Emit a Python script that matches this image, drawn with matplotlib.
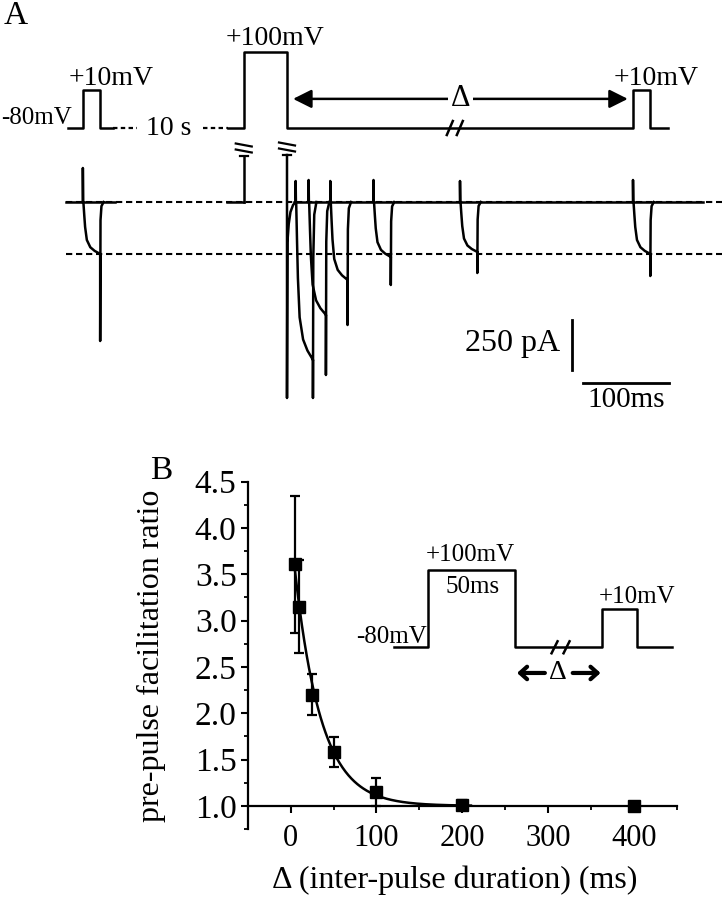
import matplotlib
matplotlib.use('Agg')
import matplotlib.pyplot as plt
from matplotlib.ticker import MultipleLocator, FormatStrFormatter
from matplotlib.transforms import Affine2D, ScaledTranslation
import numpy as np

plt.rcParams['font.family'] = ['Liberation Serif', 'DejaVu Serif']
plt.rcParams['axes.linewidth'] = 1.6

W, H = 722, 899

# ---- panel B: facilitation ratio vs inter-pulse interval ----
delta_ms = [5, 10, 25, 50, 100, 200, 400]
ratio = [3.61, 3.15, 2.20, 1.58, 1.15, 1.01, 1.00]
ratio_err = [0.74, 0.50, 0.22, 0.16, 0.15, 0.05, 0.0]
fit_amp, fit_tau = 3.0, 30.5   # single exponential fit

# ---- panel A: voltage protocol (ms, mV) ----
ctrl_t = [-253, -236, -236, -216, -216, -201]
ctrl_v = [-80, -80, 10, 10, -80, -80]
gap_t = [(-201, -173), (-97, -68)]
pp_t = [-68, -50, -50, 0, 0, 400, 400, 420, 420, 440]
pp_v = [-80, -80, 100, 100, -80, -80, 10, 10, -80, -80]

# ---- panel A: currents (pA) ----
pulse_ms = 20
ctrl_on, ctrl_cap, ctrl_plateau, ctrl_tail = -236, 170, -260, -695
test_on = [10, 25, 50, 100, 200, 400]
test_cap = [105, 110, 105, 110, 105, 110]
test_plateau = [-790, -565, -390, -275, -250, -260]
test_tail = [-980, -865, -615, -415, -355, -370]
act_t = [0, 1, 2, 4, 8, 13, 19.5]
act_f = [0, 0.25, 0.48, 0.73, 0.87, 0.94, 1.0]
pre_cap = [230, 235]
pre_tail = -980
rec_t = [0.5, 2, 4, 7, 10]
rec_i = [-200, -110, -50, -15, 0]

# ---- inset protocol in B ----
ins_t = [-20, 0, 0, 50, 50, 100, 100, 120, 120, 140]
ins_v = [-80, -80, 100, 100, -80, -80, 10, 10, -80, -80]


def px(ax, x, y):
    # pixel offsets around a data point
    return Affine2D() + ScaledTranslation(x, y, ax.transData)


def spike_break(ax, x, y):
    tr = px(ax, x, y)
    ax.plot([-4, 4], [0, 0], color='k', lw=1.6, transform=tr, clip_on=False)
    for dy in (5, 11):
        ax.plot([-8, 8], [dy + 1.5, dy - 1.5], color='k', lw=1.6,
                transform=tr, clip_on=False)


def line_break(ax, x, y, sep=5, h=7):
    tr = px(ax, x, y)
    for dx in (-sep, sep):
        ax.plot([dx - 3, dx + 3], [-h, h], color='k', lw=1.8,
                transform=tr, clip_on=False)


def sweep(on, cap, plateau, tail):
    t = [on, on, on + 0.3]
    i = [0, cap, 0]
    for dt, f in zip(act_t, act_f):
        t.append(on + 0.6 + dt)
        i.append(plateau * f)
    end = on + pulse_ms
    t += [end, end, end + 0.4, end + 1.5, end + 4]
    i += [plateau, tail, plateau * 0.35, plateau * 0.08, 0]
    return t, i


fig = plt.figure(figsize=(W / 100, H / 100), dpi=100)

t_lim = ((0 - 287) / 0.865, (W - 287) / 0.865)

# ---------------- panel A protocol ----------------
ax_v = fig.add_axes([0, 1 - 140 / H, 1, 115 / H])
ax_v.set_xlim(t_lim)
ax_v.set_ylim(-108.4, 164.0)
ax_v.axis('off')

ax_v.plot(ctrl_t, ctrl_v, color='k', lw=1.8)
ax_v.plot(pp_t, pp_v, color='k', lw=1.8)
for a, b in gap_t:
    ax_v.plot([a, b], [-80, -80], color='k', lw=1.6, dashes=(2, 1.5))
ax_v.text(-137, -80, '10 s', fontsize=20, ha='center', va='center')
ax_v.text(t_lim[0] + 1, -56, '-80mV', fontsize=18, ha='left', va='center')
ax_v.text(-203, 38, '+10mV', fontsize=20, ha='center', va='center')
ax_v.text(-14, 133, '+100mV', fontsize=20, ha='center', va='center')
ax_v.text(427, 38, '+10mV', fontsize=20, ha='center', va='center')
ax_v.annotate('', xy=(394, -11), xytext=(7, -11),
              arrowprops=dict(arrowstyle='<|-|>', color='k', lw=1.8,
                              mutation_scale=28, shrinkA=0, shrinkB=0))
ax_v.text(201, -11, '\u0394', fontsize=22, ha='center', va='center',
          bbox=dict(facecolor='white', edgecolor='none', pad=2))
line_break(ax_v, 194, -80)

# ---------------- panel A currents ----------------
ax_i = fig.add_axes([0, 1 - 420 / H, 1, 280 / H])
ax_i.set_xlim(t_lim)
ax_i.set_ylim(-1090, 310)
ax_i.axis('off')

for lvl in (0, ctrl_plateau):
    ax_i.plot([-255.5, t_lim[1]], [lvl, lvl], color='k', lw=1.5, dashes=(3, 1.8))

# baselines
ax_i.plot([-255, -199], [0, 0], color='k', lw=1.8)
ax_i.plot([-69, -50], [0, 0], color='k', lw=1.8)
ax_i.plot([8, 481], [0, 0], color='k', lw=1.8)

# control sweep
t, i = sweep(ctrl_on, ctrl_cap, ctrl_plateau, ctrl_tail)
ax_i.plot(t, i, color='k', lw=1.8)

# conditioning pulse: onset and offset artefacts (broken)
ax_i.plot([-50, -50], [0, pre_cap[0]], color='k', lw=1.8)
spike_break(ax_i, -50, pre_cap[0])
ax_i.plot([0, 0] + rec_t, [pre_cap[1], pre_tail] + rec_i, color='k', lw=1.8)
spike_break(ax_i, 0, pre_cap[1])

# test sweeps
for on, cap, pl, tl in zip(test_on, test_cap, test_plateau, test_tail):
    t, i = sweep(on, cap, pl, tl)
    ax_i.plot(t, i, color='k', lw=1.8)

# scale bars
ax_i.plot([329.5, 329.5], [-590, -840], color='k', lw=2)
ax_i.text(316, -705, '250 pA', fontsize=23, ha='right', va='center')
ax_i.plot([342, 442], [-905, -905], color='k', lw=2)
ax_i.text(392, -925, '100ms', fontsize=21, ha='center', va='top')

fig.text(16 / W, 1 - 16 / H, 'A', fontsize=24, ha='center', va='center')
fig.text(161 / W, 1 - 471 / H, 'B', fontsize=24, ha='center', va='center')

# ---------------- panel B ----------------
ax_b = fig.add_axes([247.7 / W, 1 - 829 / H, 429.3 / W, 347.3 / H])
t_fit = np.linspace(delta_ms[0], 210, 300)
ax_b.plot(t_fit, 1 + fit_amp * np.exp(-t_fit / fit_tau), color='k', lw=1.8)
ax_b.errorbar(delta_ms, ratio, yerr=ratio_err, fmt='s', color='k', ms=8,
              capsize=3.5, elinewidth=1.6, capthick=1.6, zorder=3)

ax_b.set_xlim(-50, 450)
ax_b.set_ylim(0.75, 4.5)
ax_b.set_xticks([0, 100, 200, 300, 400])
ax_b.xaxis.set_minor_locator(MultipleLocator(50))
ax_b.set_yticks(np.arange(1.0, 4.51, 0.5))
ax_b.yaxis.set_minor_locator(MultipleLocator(0.25))
ax_b.yaxis.set_major_formatter(FormatStrFormatter('%.1f'))
ax_b.spines['top'].set_visible(False)
ax_b.spines['right'].set_visible(False)
ax_b.spines['bottom'].set_position(('data', 1.0))
ax_b.tick_params(which='major', direction='out', length=5, width=1.5)
ax_b.tick_params(which='minor', direction='out', length=3, width=1.3)
ax_b.tick_params(axis='y', labelsize=24, pad=3)
ax_b.tick_params(axis='x', labelsize=22, pad=8)
ax_b.set_ylabel('pre-pulse facilitation ratio', fontsize=23)
ax_b.yaxis.set_label_coords(-0.19, 0.5)
ax_b.set_xlabel('\u0394 (inter-pulse duration) (ms)', fontsize=23)
ax_b.xaxis.set_label_coords(0.483, -0.105)

# inset protocol
ax_in = fig.add_axes([380 / W, 1 - 690 / H, 310 / W, 150 / H])
ax_in.set_xlim(-27.76, 150.4)
ax_in.set_ylim(-179.8, 170.7)
ax_in.axis('off')
ax_in.plot(ins_t, ins_v, color='k', lw=1.8)
line_break(ax_in, 76, -80, sep=6, h=6)
ax_in.text(24, 136, '+100mV', fontsize=18, ha='center', va='center')
ax_in.text(25.7, 61, '50ms', fontsize=18, ha='center', va='center')
ax_in.text(-0.7, -56, '-80mV', fontsize=18, ha='right', va='center')
ax_in.text(120, 37.5, '+10mV', fontsize=18, ha='center', va='center')
ax_in.text(74.5, -140, '\u0394', fontsize=20, ha='center', va='center')
ax_in.annotate('', xy=(51, -140), xytext=(67, -140),
               arrowprops=dict(arrowstyle='->,head_length=0.5,head_width=0.45',
                               color='k', lw=3, shrinkA=0, shrinkB=0))
ax_in.annotate('', xy=(99, -140), xytext=(83, -140),
               arrowprops=dict(arrowstyle='->,head_length=0.5,head_width=0.45',
                               color='k', lw=3, shrinkA=0, shrinkB=0))

fig.savefig('out.png', dpi=100)
